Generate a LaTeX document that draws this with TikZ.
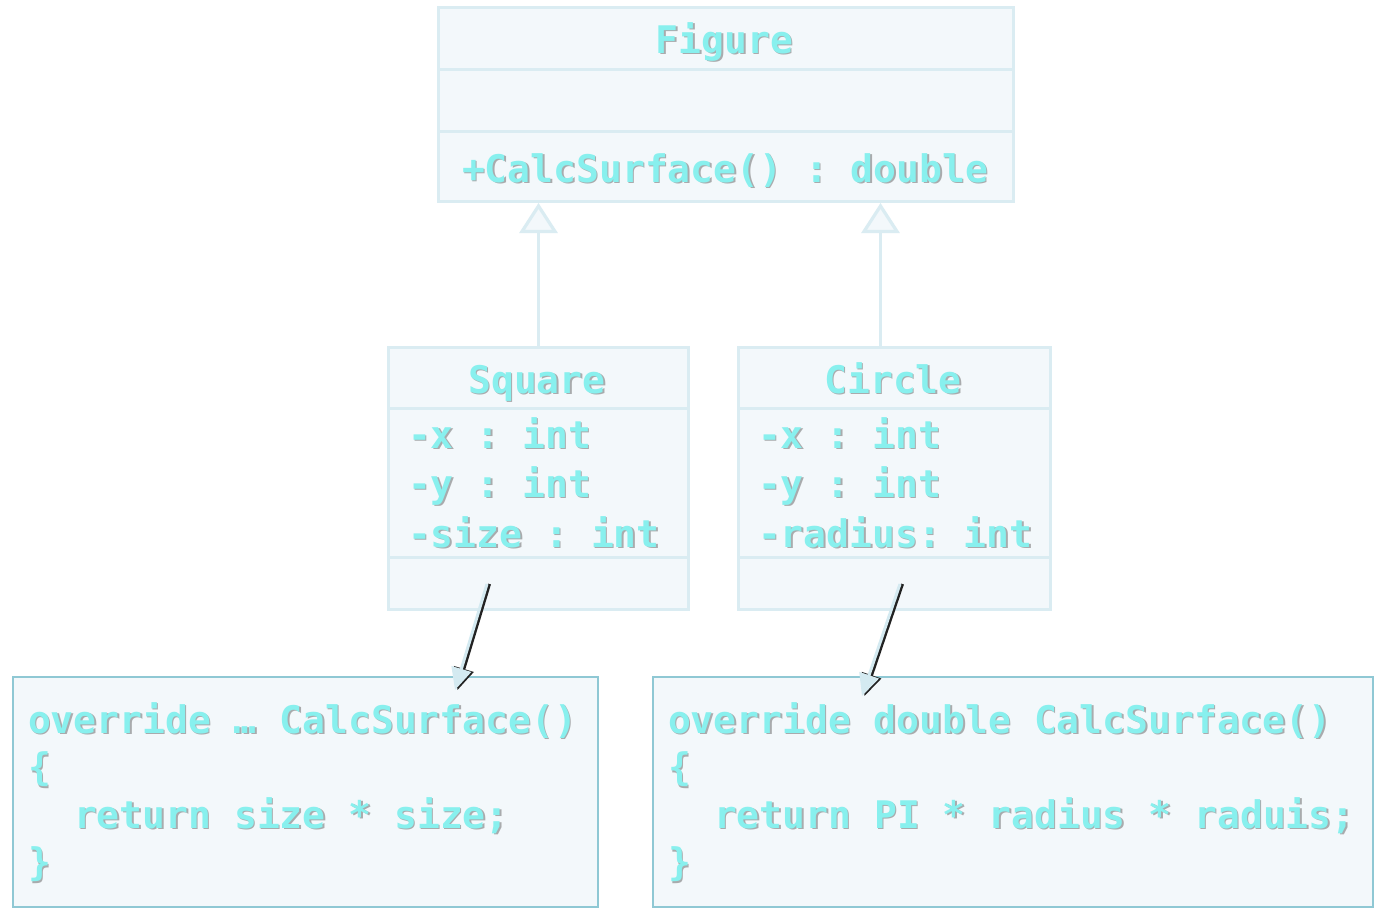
\documentclass[tikz,border=0pt]{standalone}
\usepackage{fontspec}
\setmonofont{DejaVu Sans Mono}
\usetikzlibrary{arrows.meta}
\definecolor{txtc}{HTML}{88F0EE}
\definecolor{shc}{HTML}{606060}
\definecolor{boxfill}{HTML}{F3F8FB}
\definecolor{boxline}{HTML}{DAECF2}
\definecolor{noteline}{HTML}{8FC8D4}
\definecolor{darkln}{HTML}{222222}
\definecolor{lightln}{HTML}{D4EAF1}
\tikzset{
  txt/.style={text=txtc, font=\fontsize{38}{44}\selectfont\ttfamily\bfseries, inner sep=0pt, outer sep=0pt},
  shd/.style={txt, text=shc, opacity=0.5, xshift=1.5pt, yshift=-1.5pt},
  umlbox/.style={draw=boxline, fill=boxfill, line width=3pt, inner sep=0pt, anchor=north west},
  notebox/.style={draw=noteline, fill=boxfill, line width=2pt, inner sep=0pt, anchor=north west},
  divider/.style={draw=boxline, line width=3pt},
  inh/.style={draw=boxline, line width=3.2pt, -{Triangle[length=30pt, width=38pt, fill=boxfill]}},
  depshadow/.style={draw=darkln, line width=3pt, -{Triangle[length=22pt, width=20pt, fill=darkln]}},
  deplight/.style={draw=lightln, line width=3pt, -{Triangle[length=22pt, width=20pt, fill=lightln]}},
}
\newcommand\tline[4]{%
  \node[shd, anchor=#2] at (#1) {#4};
  \node[txt, anchor=#2] (#3) at (#1) {#4};}
\begin{document}
\begin{tikzpicture}[x=1pt, y=-1pt]
\useasboundingbox[fill=white] (0,0) rectangle (1384,916);

% class boxes
\node[umlbox, minimum width=575pt, minimum height=194pt] (figure) at (437,6) {};
\draw[divider] (437,69) -- (1012,69);
\draw[divider] (437,131) -- (1012,131);
\node[umlbox, minimum width=300pt, minimum height=262pt] (square) at (387,346) {};
\draw[divider] (387,408) -- (687,408);
\draw[divider] (387,557) -- (687,557);
\node[umlbox, minimum width=312pt, minimum height=262pt] (circle) at (737,346) {};
\draw[divider] (737,408) -- (1049,408);
\draw[divider] (737,557) -- (1049,557);

% note boxes
\node[notebox, minimum width=585pt, minimum height=230pt] (note1) at (12,676) {};
\node[notebox, minimum width=720pt, minimum height=230pt] (note2) at (652,676) {};

% texts
\tline{724.5,53}{base}{tFig}{Figure}
\tline{462,182}{base west}{tFigOp}{+CalcSurface() : double}
\tline{537,393}{base}{tSq}{Square}
\tline{408,448}{base west}{tSqA}{-x : int}
\tline{408,497}{base west}{tSqB}{-y : int}
\tline{408,547}{base west}{tSqC}{-size : int}
\tline{893,393}{base}{tCi}{Circle}
\tline{758,448}{base west}{tCiA}{-x : int}
\tline{758,497}{base west}{tCiB}{-y : int}
\tline{758,547}{base west}{tCiC}{-radius: int}

\tline{28,733}{base west}{tN1a}{override … CalcSurface()}
\tline{28,780.5}{base west}{tN1b}{\{}
\tline{74,828}{base west}{tN1c}{return size * size;}
\tline{28,875.5}{base west}{tN1d}{\}}
\tline{668,733}{base west}{tN2a}{override double CalcSurface()}
\tline{668,780.5}{base west}{tN2b}{\{}
\tline{714,828}{base west}{tN2c}{return PI * radius * raduis;}
\tline{668,875.5}{base west}{tN2d}{\}}

% inheritance
\draw[inh] (square.north) -- (square.north |- figure.south);
\draw[inh] ([xshift=-14pt]circle.north) -- ([xshift=-14pt]circle.north |- figure.south);

% dependency arrows
\coordinate (sqs) at (487,584);
\coordinate (sqe) at (455,690);
\coordinate (cis) at (900,584);
\coordinate (cie) at (862,696);
\draw[depshadow] ([xshift=2.5pt]sqs) -- ([xshift=2.5pt]sqe);
\draw[deplight] (sqs) -- (sqe);
\draw[depshadow] ([xshift=2.5pt]cis) -- ([xshift=2.5pt]cie);
\draw[deplight] (cis) -- (cie);
\end{tikzpicture}
\end{document}
